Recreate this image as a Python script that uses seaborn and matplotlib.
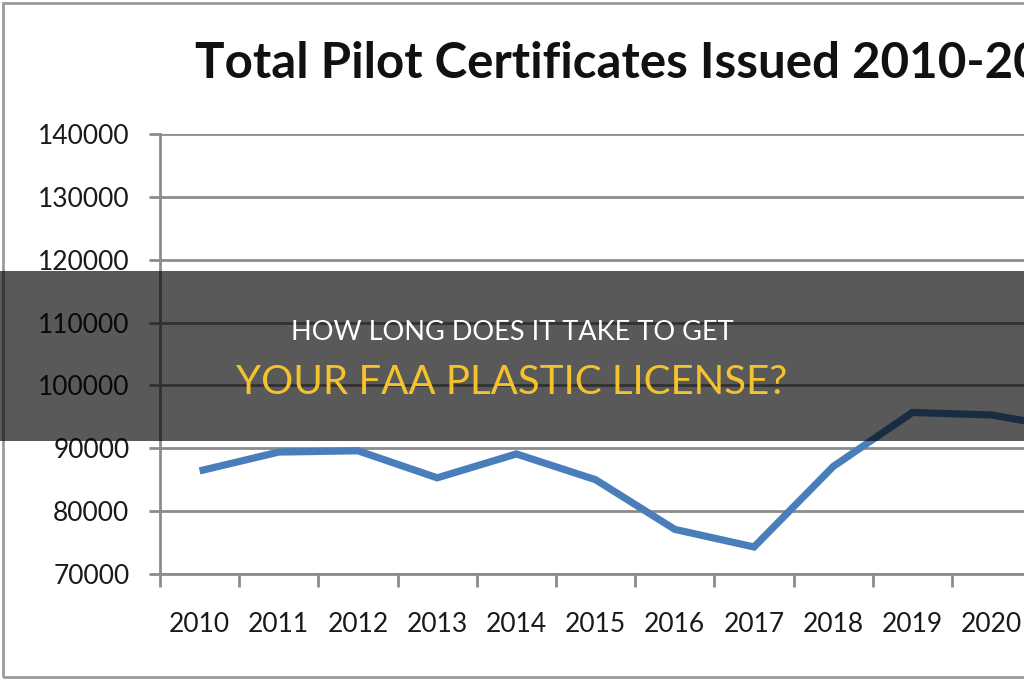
import matplotlib
matplotlib.use("Agg")
import matplotlib.pyplot as plt
import seaborn as sns
import pandas as pd
from matplotlib.patches import Rectangle

sns.set_theme(style="white")
plt.rcParams['font.family'] = ['Lato', 'DejaVu Sans']

# Data
years = [2010, 2011, 2012, 2013, 2014, 2015, 2016, 2017, 2018, 2019, 2020, 2021]
certificates = [86400, 89400, 89600, 85300, 89100, 85000, 77100, 74300, 87100, 95700, 95300, 93100]
y_ticks = [70000, 80000, 90000, 100000, 110000, 120000, 130000, 140000]

title = "Total Pilot Certificates Issued 2010-2021"
headline_1 = "HOW LONG DOES IT TAKE TO GET"
headline_2 = "YOUR FAA PLASTIC LICENSE?"

df = pd.DataFrame({'year': years, 'certificates': certificates})

W, H = 1024, 680
fig = plt.figure(figsize=(W / 100, H / 100), dpi=100, facecolor='white')

# axes run past the right edge, the chart is a cropped screenshot
ax_left = 160 / W
ax_bottom = 1 - 574 / H
ax_height = (574 - 134) / H
ax_width = (12 * 79.2) / W
ax = fig.add_axes([ax_left, ax_bottom, ax_width, ax_height])

grid_col = '#8c8c8c'
sns.lineplot(data=df, x='year', y='certificates', ax=ax,
             color='#4a7ebb', linewidth=5.2, solid_joinstyle='miter',
             solid_capstyle='butt')

ax.set_xlim(years[0] - 0.5, years[-1] + 0.5)
ax.set_ylim(y_ticks[0], y_ticks[-1])
ax.set_yticks(y_ticks)
ax.set_yticklabels([str(v) for v in y_ticks])
ax.set_xticks(years)
ax.set_xticklabels([str(y) for y in years])
ax.set_xticks([y - 0.5 for y in years] + [years[-1] + 0.5], minor=True)

ax.grid(axis='y', color=grid_col, linewidth=2)
ax.grid(axis='x', visible=False)
ax.set_axisbelow(True)
for s in ['top', 'right']:
    ax.spines[s].set_visible(False)
for s in ['left', 'bottom']:
    ax.spines[s].set_color(grid_col)
    ax.spines[s].set_linewidth(2)

ax.tick_params(axis='y', which='major', length=8, width=2, color=grid_col,
               direction='out', left=True, pad=14, labelsize=19, labelcolor='#1a1a1a')
ax.tick_params(axis='x', which='major', length=0, pad=27, labelsize=19,
               labelcolor='#1a1a1a')
ax.tick_params(axis='x', which='minor', length=9, width=2, color=grid_col,
               direction='out', bottom=True)
ax.set_xlabel('')
ax.set_ylabel('')
ax.patch.set_alpha(0)

# chart title (clipped by the crop)
fig.text(195 / W, 1 - 64 / H, title, ha='left', va='center',
         fontsize=35.5, fontweight='bold', color='#111111')

# screenshot frame
fig.patches.append(Rectangle((3 / W, 3 / H), 1.2, 1 - 6 / H,
                             transform=fig.transFigure, fill=False,
                             edgecolor='#9a9a9a', linewidth=2))

# dark headline band
fig.patches.append(Rectangle((0, 1 - 441 / H), 1, (441 - 271) / H,
                             transform=fig.transFigure, facecolor='black',
                             alpha=0.65, edgecolor='none', zorder=5))
fig.text(0.5, 1 - 333 / H, headline_1, ha='center', va='center',
         fontsize=19.5, color='white', zorder=6)
fig.text(0.5, 1 - 383 / H, headline_2, ha='center', va='center',
         fontsize=29, color='#f4c22c', zorder=6)

fig.savefig('out.png', dpi=100, facecolor='white')
